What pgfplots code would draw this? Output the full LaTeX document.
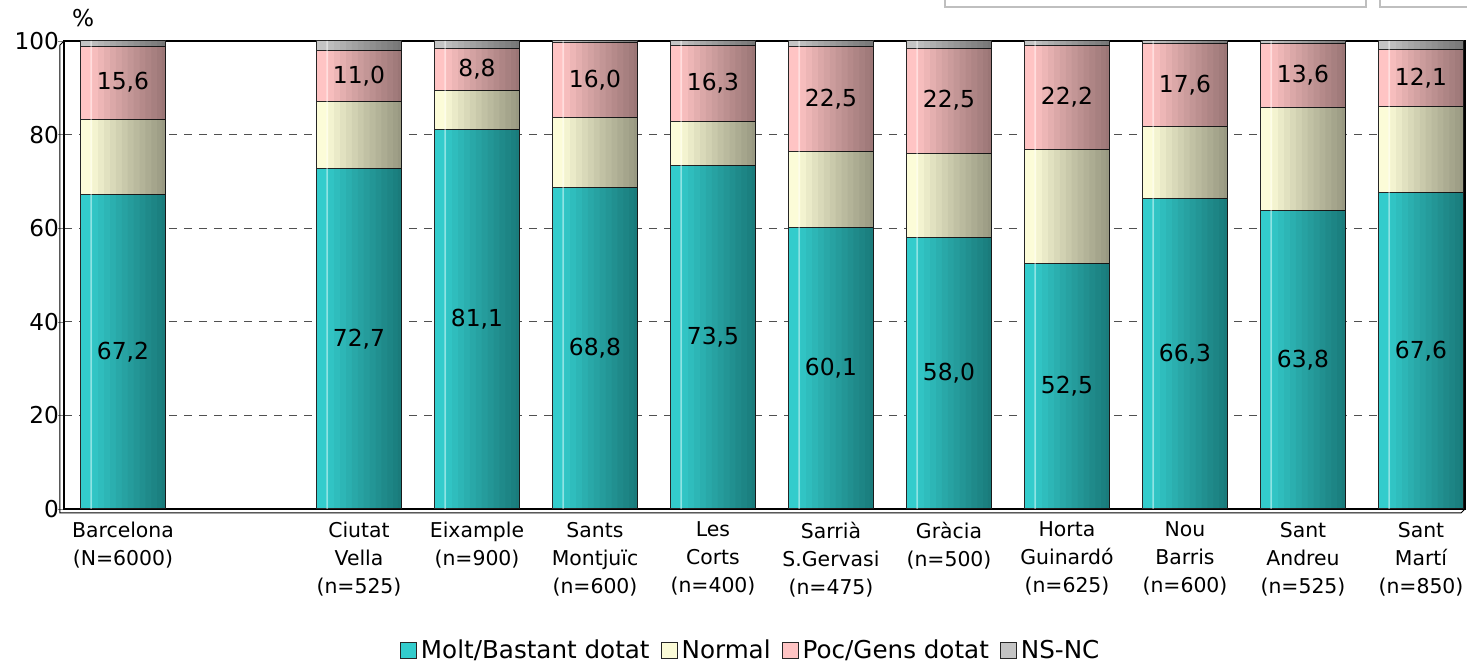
\documentclass[border=0pt]{standalone}
\usepackage{fontspec}
\setmainfont{DejaVu Sans}
\usepackage{pgfplots}
\pgfplotsset{compat=1.18}

\definecolor{molt}{HTML}{33CCCC}
\definecolor{normal}{HTML}{FCFCD8}
\definecolor{poc}{HTML}{FFC4C4}
\definecolor{nsnc}{HTML}{C4C4C4}
\definecolor{gridgray}{HTML}{505050}

% 1 px of the reference = 0.5pt
\pgfplotsset{
  base/.style={
    scale only axis, width=700.5pt, height=234pt,
    xmin=-0.5, xmax=11.373, ymin=0, ymax=100,
  },
  sq/.style={legend image code/.code={%
      \pgfsetfillcolor{#1}\pgfsetstrokecolor{black!85}\pgfsetlinewidth{0.5pt}%
      \pgfpathrectangle{\pgfpoint{0pt}{-4pt}}{\pgfpoint{8pt}{8pt}}%
      \pgfusepath{fill,stroke}}},
  % darkening band over the right part of each bar, from offset #1 to the edge
  band/.style={bar width={0.356-(#1)}, bar shift={(0.356+(#1))/2},
    fill=black, fill opacity=0.036, draw=none},
}

% x: Barcelona at 0, districts at 2..11
\pgfplotstableread{
x  molt  norm  poc   ns   top
0  67.2  16.1  15.6  1.1  100
2  72.7  14.3  11.0  2.0  100
3  81.1  8.4   8.8   1.7  100
4  68.8  14.9  16.0  0.3  100
5  73.5  9.3   16.3  0.9  100
6  60.1  16.2  22.5  1.2  100
7  58.0  18.0  22.5  1.5  100
8  52.5  24.4  22.2  0.9  100
9  66.3  15.5  17.6  0.6  100
10 63.8  22.0  13.6  0.6  100
11 67.6  18.4  12.1  1.9  100
}\datatable

% label positions (middle of each labelled segment)
\pgfplotstableread{
x  y      lab
0  33.6   67,2
2  36.35  72,7
3  40.55  81,1
4  34.4   68,8
5  36.75  73,5
6  30.05  60,1
7  29.0   58,0
8  26.25  52,5
9  33.15  66,3
10 31.9   63,8
11 33.8   67,6
0  91.1   15,6
2  92.5   11,0
3  93.9   8,8
4  91.7   16,0
5  90.95  16,3
6  87.55  22,5
7  87.25  22,5
8  88.0   22,2
9  90.6   17,6
10 92.6   13,6
11 92.05  12,1
}\labtable

\begin{document}
\begin{tikzpicture}
\useasboundingbox (-32pt,-77pt) rectangle (701.5pt,254.5pt);
% cut-off boxes at the very top of the reference
\draw[black!25, line width=1.2pt] (440.5pt,251pt) rectangle (651pt,262pt);
\draw[black!25, line width=1.2pt] (658pt,251pt) rectangle (712pt,262pt);

\begin{axis}[
    base,
    ybar stacked,
    bar width=0.712,
    axis line style={black, line width=0.6pt},
    ytick={0,20,...,100},
    ytick pos=left,
    tick align=outside,
    major tick length=3pt,
    xtick={0,2,3,4,5,6,7,8,9,10,11},
    xticklabels={
      Barcelona\\(N=6000), Ciutat\\Vella\\(n=525), Eixample\\(n=900),
      Sants\\Montjuïc\\(n=600), Les\\Corts\\(n=400), Sarrià\\S.Gervasi\\(n=475),
      Gràcia\\(n=500), Horta\\Guinardó\\(n=625), Nou\\Barris\\(n=600),
      Sant\\Andreu\\(n=525), Sant\\Martí\\(n=850)},
    x tick style={draw=none},
    xticklabel style={align=center, font=\fontsize{10.2}{14}\selectfont},
    yticklabel style={font=\fontsize{11.6}{13}\selectfont, xshift=4pt},
    /pgf/number format/assume math mode=true,
    ymajorgrids,
    grid style={gridgray, line width=0.5pt, dash pattern=on 4pt off 3.5pt},
    ylabel={\%},
    ylabel style={at={(rel axis cs:0.0136,1.049)}, rotate=-90, anchor=center,
      font=\fontsize{11.6}{13}\selectfont},
    legend style={at={(rel axis cs:0.4905,-0.303)}, anchor=center, draw=none,
      fill=none, font=\fontsize{12.3}{14}\selectfont,
      nodes={inner xsep=1.5pt},
      /tikz/every odd column/.append style={column sep=0.5pt},
      /tikz/every even column/.append style={column sep=4pt}},
    legend columns=-1,
    every axis plot/.append style={draw=black!85, line width=0.5pt},
]
\addplot[sq=molt, fill=molt] table[x=x, y=molt] {\datatable};
\addplot[sq=normal, fill=normal] table[x=x, y=norm] {\datatable};
\addplot[sq=poc, fill=poc] table[x=x, y=poc] {\datatable};
\addplot[sq=nsnc, fill=nsnc] table[x=x, y=ns] {\datatable};
\legend{Molt/Bastant dotat, Normal, Poc/Gens dotat, NS-NC}
\end{axis}

% cylinder look: stepped darkening towards the right, thin highlight on the left
\begin{axis}[base, hide axis, ybar]
\addplot[band=-0.26] table[x=x, y=top] {\datatable};
\addplot[band=-0.21] table[x=x, y=top] {\datatable};
\addplot[band=-0.16] table[x=x, y=top] {\datatable};
\addplot[band=-0.11] table[x=x, y=top] {\datatable};
\addplot[band=-0.06] table[x=x, y=top] {\datatable};
\addplot[band=-0.01] table[x=x, y=top] {\datatable};
\addplot[band=0.04] table[x=x, y=top] {\datatable};
\addplot[band=0.09] table[x=x, y=top] {\datatable};
\addplot[band=0.14] table[x=x, y=top] {\datatable};
\addplot[band=0.19] table[x=x, y=top] {\datatable};
\addplot[band=0.24] table[x=x, y=top] {\datatable};
\addplot[band=0.29] table[x=x, y=top] {\datatable};
\addplot[band=0.33] table[x=x, y=top] {\datatable};
\addplot[bar width=0.012, bar shift=-0.27, fill=white, fill opacity=0.45, draw=none]
  table[x=x, y=top] {\datatable};
\end{axis}

\begin{axis}[base, hide axis]
\addplot[only marks, mark=*, mark size=0pt, mark options={draw=none, fill=none},
    nodes near coords, point meta=explicit symbolic,
    nodes near coords style={anchor=center, font=\fontsize{11.7}{14}\selectfont, text=black}]
  table[x=x, y=y, meta=lab] {\labtable};
\end{axis}

% 3D wall and floor edge
\draw[black, line width=0.5pt] (0pt,234pt) -- (-2pt,232pt) -- (-2pt,-2pt) -- (698.5pt,-2pt) -- (700.5pt,0pt);
\end{tikzpicture}
\end{document}
